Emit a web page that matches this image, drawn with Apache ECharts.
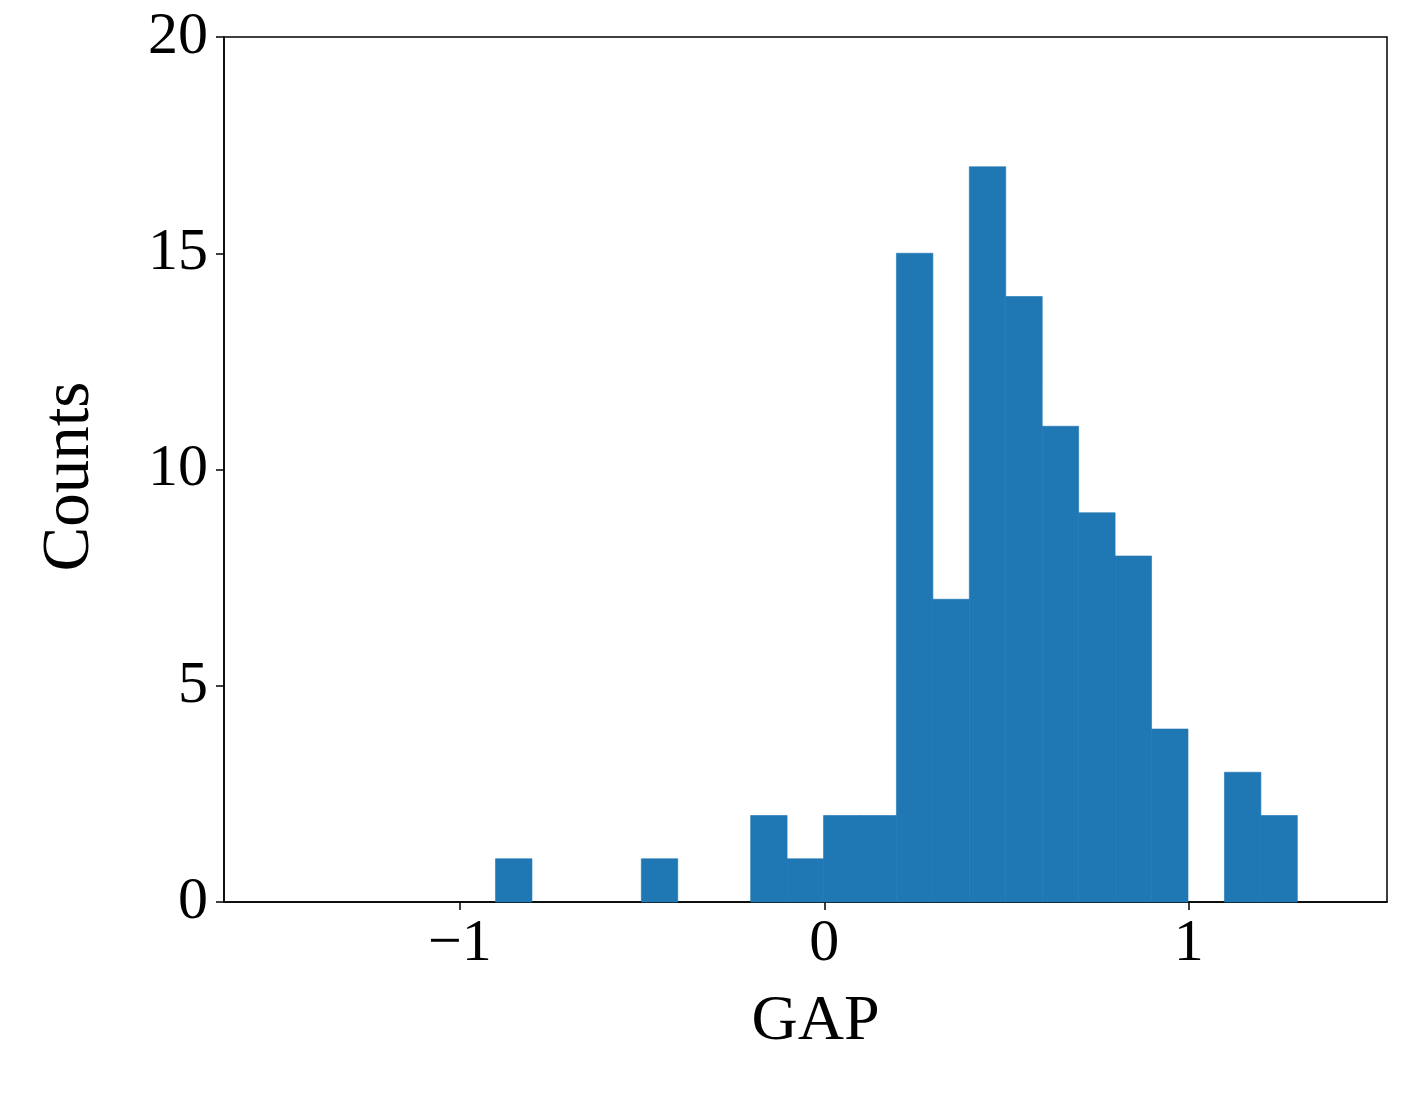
<!DOCTYPE html>
<html>
<head>
<meta charset="utf-8">
<script src="https://cdn.jsdelivr.net/npm/echarts@6/dist/echarts.min.js"></script>
<style>html,body{margin:0;padding:0;background:#fff;}#c{width:1401px;height:1099px;}</style>
</head>
<body>
<div id="c"></div>
<script>
// Histogram bin edges (left, right) and counts
const binStarts = [-0.902,-0.802,-0.702,-0.602,-0.502,-0.402,-0.302,-0.202,-0.102,-0.002,0.098,0.198,0.298,0.398,0.498,0.598,0.698,0.798,0.898,0.998,1.098,1.198];
const binWidth = 0.1;
const counts = [1,0,0,0,1,0,0,2,1,2,2,15,7,17,14,11,9,8,4,0,3,2];
const xTicks = [-1, 0, 1];
const yTicks = [0, 5, 10, 15, 20];

const data = binStarts.map((s, i) => [s, s + binWidth, counts[i]]).filter(d => d[2] > 0);

const chart = echarts.init(document.getElementById('c'));
const font = 'Liberation Serif';
chart.setOption({
  backgroundColor: '#fff',
  animation: false,
  grid: {left: 224, right: 14, top: 37, bottom: 197, show: true, borderColor: '#000', borderWidth: 1.5},
  xAxis: {
    type: 'value', min: -1.647, max: 1.544,
    name: 'GAP', nameLocation: 'middle', nameGap: 88,
    nameTextStyle: {fontFamily: font, fontSize: 64, color: '#000', padding: [0, 0, 0, 20]},
    axisLine: {show: true, onZero: false, lineStyle: {color: '#000', width: 1.5}},
    axisTick: {show: true, customValues: xTicks, length: 8, lineStyle: {color: '#000', width: 1.5}},
    axisLabel: {customValues: xTicks, fontFamily: font, fontSize: 60, color: '#000', margin: 12,
      formatter: v => String(v).replace('-', '\u2212')},
    splitLine: {show: false}
  },
  yAxis: {
    type: 'value', min: 0, max: 20, interval: 5,
    name: 'Counts', nameLocation: 'middle', nameGap: 120, nameRotate: 90,
    nameTextStyle: {fontFamily: font, fontSize: 67, color: '#000', padding: [0, 14, 0, 0]},
    axisLine: {show: true, onZero: false, lineStyle: {color: '#000', width: 1.5}},
    axisTick: {show: true, length: 8, lineStyle: {color: '#000', width: 1.5}},
    axisLabel: {fontFamily: font, fontSize: 60, color: '#000', margin: 16},
    splitLine: {show: false}
  },
  series: [{
    type: 'custom',
    data: data,
    encode: {x: [0, 1], y: 2},
    renderItem: function (params, api) {
      const p0 = api.coord([api.value(0), 0]);
      const p1 = api.coord([api.value(1), api.value(2)]);
      return {
        type: 'rect',
        shape: {x: p0[0], y: p1[1], width: p1[0] - p0[0], height: p0[1] - p1[1]},
        style: {fill: '#1f77b4', stroke: '#1f77b4', lineWidth: 0.6}
      };
    }
  }]
});
</script>
</body>
</html>
